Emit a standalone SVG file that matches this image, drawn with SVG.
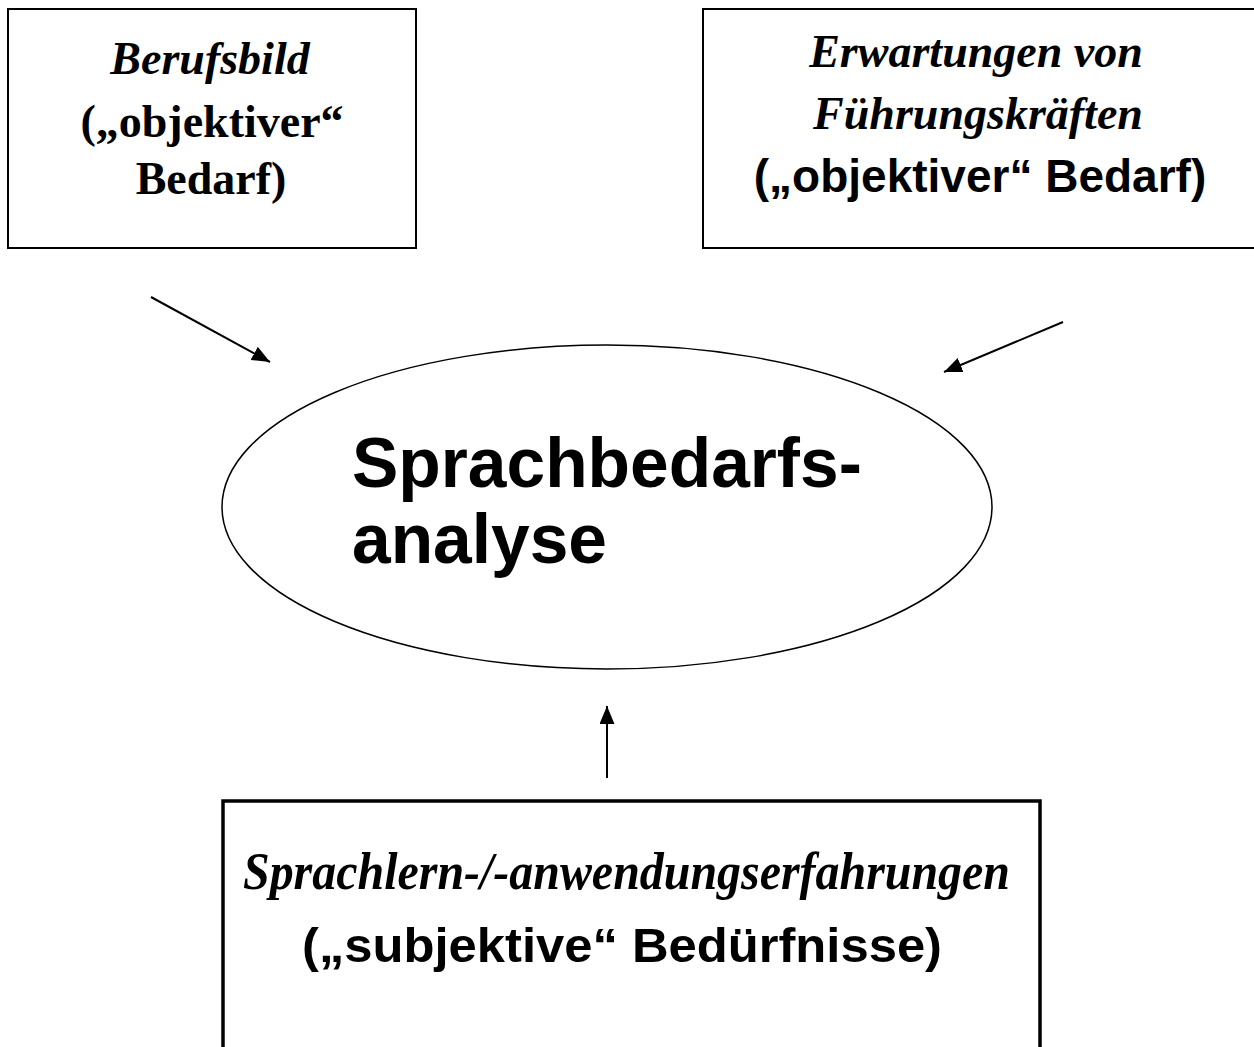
<svg xmlns="http://www.w3.org/2000/svg" width="1254" height="1047" viewBox="0 0 1254 1047">
<style>
.box{fill:#fff;stroke:#000;stroke-width:2}
.tb{font-family:"Liberation Serif","Times New Roman",serif;font-weight:bold;fill:#000;text-anchor:middle}
.ti{font-style:italic}
.ab{font-family:"Liberation Sans",Arial,sans-serif;font-weight:bold;fill:#000;text-anchor:middle}
.st{text-anchor:start}
.conn{stroke:#000;stroke-width:2;fill:none;marker-end:url(#ah)}
</style>
<defs>
<marker id="ah" markerUnits="userSpaceOnUse" markerWidth="20" markerHeight="16" refX="18" refY="7.5" orient="auto">
<path d="M0,0 L18,7.5 L0,15 z" fill="#000"/>
</marker>
</defs>
<rect width="1254" height="1047" fill="#fff"/>
<g id="berufsbild">
<rect class="box" x="8" y="9" width="408" height="239"/>
<text class="tb ti" x="210" y="74" font-size="46">Berufsbild</text>
<text class="tb" x="212" y="137" font-size="46">(„objektiver“</text>
<text class="tb" x="211" y="194" font-size="46">Bedarf)</text>
</g>
<g id="erwartungen">
<rect class="box" x="703" y="9" width="560" height="239"/>
<text class="tb ti" x="976" y="67" font-size="46">Erwartungen von</text>
<text class="tb ti" x="978" y="129" font-size="46">Führungskräften</text>
<text class="ab" x="980" y="192" font-size="46">(„objektiver“ Bedarf)</text>
</g>
<g id="sprachbedarfsanalyse">
<ellipse cx="607" cy="507" rx="385" ry="162" fill="#fff" stroke="#000" stroke-width="1.5"/>
<text class="ab st" x="352" y="487" font-size="69.5">Sprachbedarfs-</text>
<text class="ab st" x="352" y="563" font-size="69.5">analyse</text>
</g>
<g id="erfahrungen">
<rect x="223" y="801" width="817" height="260" fill="#fff" stroke="#000" stroke-width="3.5"/>
<text class="tb ti st" x="243" y="889" font-size="53" textLength="767" lengthAdjust="spacingAndGlyphs">Sprachlern-/-anwendungserfahrungen</text>
<text class="ab st" x="302" y="962" font-size="48" textLength="640" lengthAdjust="spacingAndGlyphs">(„subjektive“ Bedürfnisse)</text>
</g>
<g id="connectors">
<line class="conn" x1="151" y1="297" x2="270" y2="362"/>
<line class="conn" x1="1063" y1="322" x2="944" y2="372"/>
<line class="conn" x1="607" y1="778" x2="607" y2="706"/>
</g>
</svg>
